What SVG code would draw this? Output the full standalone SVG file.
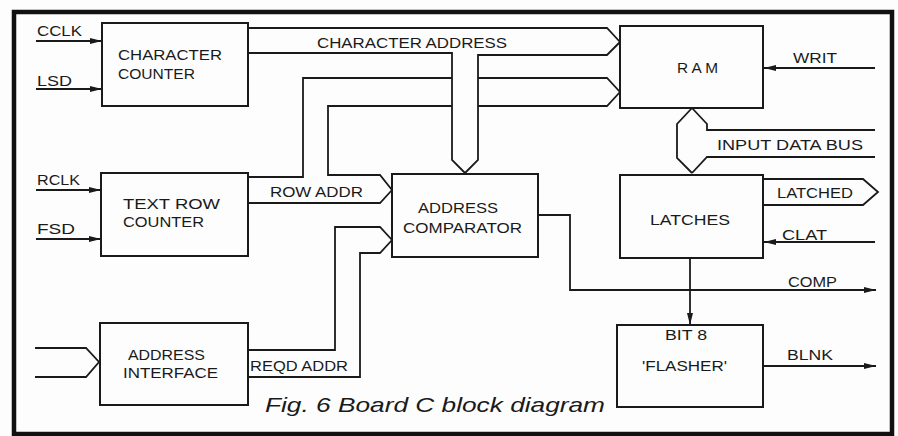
<svg xmlns="http://www.w3.org/2000/svg" width="898" height="436" viewBox="0 0 898 436">
<style>
.bg{fill:#fdfdfd}
.frame{fill:none;stroke:#111;stroke-width:4.5}
.box{fill:none;stroke:#1a1a1a;stroke-width:2}
.ln{fill:none;stroke:#1a1a1a;stroke-width:1.8;stroke-linejoin:miter}
.sig{fill:none;stroke:#1a1a1a;stroke-width:1.8;marker-end:url(#ah)}
text{font-family:"Liberation Sans",Arial,sans-serif;font-size:15px;fill:#1a1a1a}
.cap{font-size:21px;font-style:italic}
</style>
<defs>
<marker id="ah" markerUnits="userSpaceOnUse" markerWidth="13" markerHeight="7" refX="12" refY="3" orient="auto">
<path d="M0,0 L12,3 L0,6 z" fill="#1a1a1a"/>
</marker>
</defs>
<rect class="bg" x="0" y="0" width="898" height="436"/>
<rect class="frame" x="14" y="12" width="878" height="422"/>

<g id="connectors">
<!-- CHARACTER ADDRESS bus -->
<path class="ln" d="M248,28 H607 L620,42"/>
<path class="ln" d="M620,42 L607,55 H478 V160 L465,173"/>
<path class="ln" d="M248,53 H452 V160 L465,173"/>
<!-- ROW ADDR bus -->
<path class="ln" d="M248,177 H303 V78 H452 M478,78 H607 L620,92"/>
<path class="ln" d="M620,92 L607,106 H478 M452,106 H328 V175 H380 L392,190"/>
<path class="ln" d="M248,203 H380 L392,190"/>
<!-- REQD ADDR bus -->
<path class="ln" d="M248,350 H335 V227 H380 L392,240"/>
<path class="ln" d="M248,377 H360 V253 H380 L392,240"/>
<!-- address interface input bus -->
<path class="ln" d="M35,348 H86 L99,362 L86,377 H35"/>
<!-- data bus RAM <-> LATCHES -->
<path class="ln" d="M692,108 L677,124 V158 L692,173"/>
<path class="ln" d="M692,108 L707,124 V130 H875"/>
<path class="ln" d="M875,157 H707 L692,173"/>
<!-- LATCHED output bus -->
<path class="ln" d="M763,179 H863 L878,192 L863,205 H763"/>
<!-- signals -->
<path class="sig" d="M36,41 H102"/>
<path class="sig" d="M36,89 H102"/>
<path class="sig" d="M36,190 H101"/>
<path class="sig" d="M36,239 H101"/>
<path class="sig" d="M875,68 H764"/>
<path class="sig" d="M875,242 H764"/>
<path class="sig" d="M538,215 H570 V290 H876"/>
<path class="sig" d="M690,258 V325"/>
<path class="sig" d="M763,366 H876"/>
</g>

<g id="labels">
<text x="37" y="36" textLength="45" lengthAdjust="spacingAndGlyphs">CCLK</text>
<text x="37" y="86" textLength="35" lengthAdjust="spacingAndGlyphs">LSD</text>
<text x="37" y="185" textLength="43" lengthAdjust="spacingAndGlyphs">RCLK</text>
<text x="37" y="234" textLength="38" lengthAdjust="spacingAndGlyphs">FSD</text>
<text x="317" y="48" textLength="190" lengthAdjust="spacingAndGlyphs">CHARACTER ADDRESS</text>
<text x="270" y="197" textLength="93" lengthAdjust="spacingAndGlyphs">ROW ADDR</text>
<text x="250" y="371" textLength="98" lengthAdjust="spacingAndGlyphs">REQD ADDR</text>
<text x="793" y="63" textLength="44" lengthAdjust="spacingAndGlyphs">WRIT</text>
<text x="717" y="150" textLength="146" lengthAdjust="spacingAndGlyphs">INPUT DATA BUS</text>
<text x="777" y="198" textLength="76" lengthAdjust="spacingAndGlyphs">LATCHED</text>
<text x="782" y="240" textLength="45" lengthAdjust="spacingAndGlyphs">CLAT</text>
<text x="788" y="287" textLength="49" lengthAdjust="spacingAndGlyphs">COMP</text>
<text x="787" y="360" textLength="46" lengthAdjust="spacingAndGlyphs">BLNK</text>
<text class="cap" x="265" y="412" textLength="340" lengthAdjust="spacingAndGlyphs">Fig. 6 Board C block diagram</text>
</g>

<g id="character-counter">
<rect class="box" x="102" y="23" width="146" height="83"/>
<text x="118" y="60" textLength="104" lengthAdjust="spacingAndGlyphs">CHARACTER</text>
<text x="118" y="79" textLength="77" lengthAdjust="spacingAndGlyphs">COUNTER</text>
</g>

<g id="text-row-counter">
<rect class="box" x="101" y="173" width="147" height="83"/>
<text x="123" y="209" textLength="97" lengthAdjust="spacingAndGlyphs">TEXT ROW</text>
<text x="123" y="227" textLength="81" lengthAdjust="spacingAndGlyphs">COUNTER</text>
</g>

<g id="address-interface">
<rect class="box" x="100" y="323" width="148" height="82"/>
<text x="128" y="360" textLength="77" lengthAdjust="spacingAndGlyphs">ADDRESS</text>
<text x="123" y="378" textLength="95" lengthAdjust="spacingAndGlyphs">INTERFACE</text>
</g>

<g id="address-comparator">
<rect class="box" x="392" y="174" width="146" height="83"/>
<text x="418" y="213" textLength="80" lengthAdjust="spacingAndGlyphs">ADDRESS</text>
<text x="403" y="233" textLength="119" lengthAdjust="spacingAndGlyphs">COMPARATOR</text>
</g>

<g id="ram">
<rect class="box" x="620" y="26" width="143" height="82"/>
<text x="677" y="73" textLength="41" lengthAdjust="spacingAndGlyphs">R A M</text>
</g>

<g id="latches">
<rect class="box" x="620" y="175" width="143" height="83"/>
<text x="650" y="225" textLength="80" lengthAdjust="spacingAndGlyphs">LATCHES</text>
</g>

<g id="flasher">
<rect class="box" x="617" y="325" width="146" height="82"/>
<text x="665" y="340" textLength="42" lengthAdjust="spacingAndGlyphs">BIT 8</text>
<text x="642" y="371" textLength="85" lengthAdjust="spacingAndGlyphs">'FLASHER'</text>
</g>
</svg>
